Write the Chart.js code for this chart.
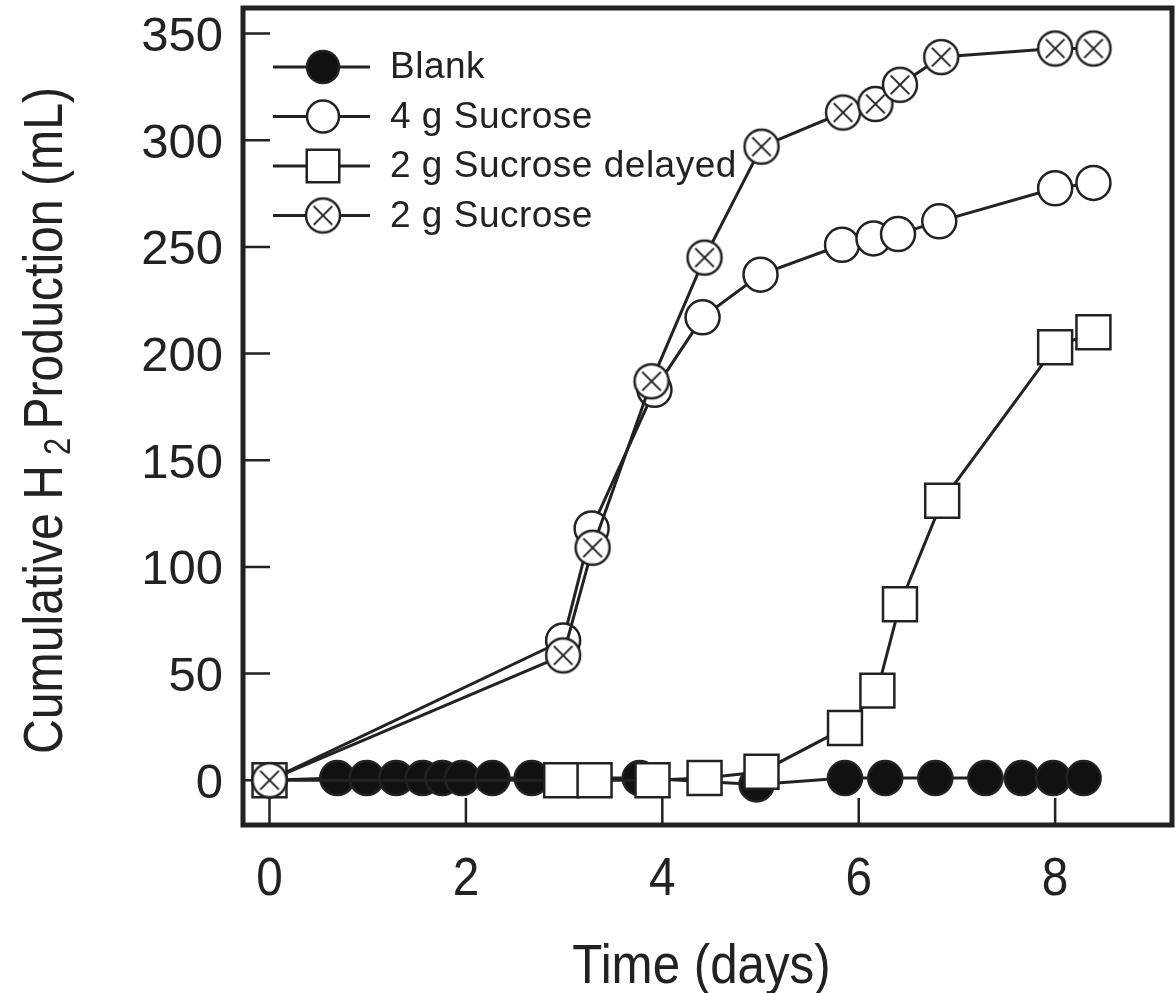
<!DOCTYPE html>
<html>
<head>
<meta charset="utf-8">
<script src="https://cdn.jsdelivr.net/npm/chart.js@4.4.0/dist/chart.umd.min.js"></script>
<style>
  html, body { margin: 0; padding: 0; background: #fff; }
  #wrap { width: 1176px; height: 993px; }
</style>
</head>
<body>
<div id="wrap"><canvas id="myChart" width="1176" height="993"></canvas></div>
<script>
// values (days, mL)
const blankDays = [0, 0.69, 0.99, 1.29, 1.56, 1.76, 1.96, 2.27, 2.67, 3.77, 4.96, 5.86, 6.27, 6.78, 7.29, 7.66, 7.98, 8.29];
const blankH2 = [0, 1, 1, 1, 1, 1, 1, 1, 1, 1, -2, 1, 1, 1, 1, 1, 1, 1];

const suc4Days = [0, 2.99, 3.28, 3.92, 4.41, 5.0, 5.83, 6.15, 6.4, 6.82, 8.0, 8.39];
const suc4H2 = [0, 65.5, 118, 183, 217, 237, 251, 254, 256, 262, 277.5, 280];

const delayedDays = [0, 2.97, 3.31, 3.9, 4.43, 5.01, 5.86, 6.19, 6.42, 6.85, 8.0, 8.39];
const delayedH2 = [0, 0, 0, 0, 1, 4, 24.5, 42, 82.5, 131, 203, 210];

const suc2Days = [0, 2.99, 3.29, 3.89, 4.43, 5.01, 5.84, 6.17, 6.42, 6.84, 8.0, 8.39];
const suc2H2 = [0, 58.5, 109, 187, 245, 297, 313, 317, 326, 339, 343, 343];

const seriesLabels = ["Blank", "4 g Sucrose", "2 g Sucrose delayed", "2 g Sucrose"];
const xTicks = [0, 2, 4, 6, 8];
const yTicks = [0, 50, 100, 150, 200, 250, 300, 350];

const INK = "#222";
const FONT = "'Liberation Sans', Arial, sans-serif";

function pts(xs, ys) {
  return xs.map((x, i) => ({ x: x, y: ys[i] }));
}

// open circle with an X inside
function crossedCircle(r) {
  const c = document.createElement("canvas");
  const s = 2 * r + 6;
  c.width = s;
  c.height = s;
  const g = c.getContext("2d");
  g.fillStyle = "#fff";
  g.strokeStyle = INK;
  g.lineWidth = 2.5;
  g.beginPath();
  g.arc(s / 2, s / 2, r, 0, Math.PI * 2);
  g.fill();
  g.stroke();
  const d = r * 0.55;
  g.lineWidth = 2;
  g.beginPath();
  g.moveTo(s / 2 - d, s / 2 - d);
  g.lineTo(s / 2 + d, s / 2 + d);
  g.moveTo(s / 2 + d, s / 2 - d);
  g.lineTo(s / 2 - d, s / 2 + d);
  g.stroke();
  return c;
}

const crossImg = crossedCircle(17);

function series(label, data, style, radius, fill, order) {
  return {
    label: label,
    data: data,
    order: order,
    borderColor: INK,
    borderWidth: 3,
    pointStyle: style,
    pointRadius: radius,
    pointHoverRadius: radius,
    pointBackgroundColor: fill,
    pointBorderColor: INK,
    pointBorderWidth: 2.5,
    tension: 0,
    fill: false
  };
}

const datasets = [
  series(seriesLabels[0], pts(blankDays, blankH2), "circle", 17, "#111", 3),
  series(seriesLabels[1], pts(suc4Days, suc4H2), "circle", 17, "#fff", 2),
  series(seriesLabels[2], pts(delayedDays, delayedH2), "rect", 24, "#fff", 1),
  series(seriesLabels[3], pts(suc2Days, suc2H2), crossImg, 17, "#fff", 0)
];

// frame + inward tick marks
const framePlugin = {
  id: "frame",
  beforeDatasetsDraw(chart) {
    const ctx = chart.ctx;
    const a = chart.chartArea;
    const xs = chart.scales.x;
    const ys = chart.scales.y;
    ctx.save();
    ctx.strokeStyle = INK;
    ctx.lineWidth = 2.5;
    ctx.beginPath();
    xTicks.forEach(v => {
      const px = xs.getPixelForValue(v);
      ctx.moveTo(px, a.bottom);
      ctx.lineTo(px, a.bottom - 27);
    });
    yTicks.forEach(v => {
      const py = ys.getPixelForValue(v);
      ctx.moveTo(a.left, py);
      ctx.lineTo(a.left + 27, py);
    });
    ctx.stroke();
    ctx.lineWidth = 5;
    ctx.strokeRect(a.left, a.top, a.right - a.left, a.bottom - a.top);
    ctx.restore();
  }
};

// x tick labels and both axis titles, slightly condensed like the original
const axisTextPlugin = {
  id: "axisText",
  afterDraw(chart) {
    const ctx = chart.ctx;
    const a = chart.chartArea;
    const xs = chart.scales.x;
    ctx.save();
    ctx.fillStyle = INK;
    ctx.textAlign = "center";
    ctx.textBaseline = "alphabetic";

    ctx.font = "53px " + FONT;
    xTicks.forEach(v => {
      ctx.save();
      ctx.translate(xs.getPixelForValue(v), a.bottom + 70);
      ctx.scale(0.9, 1);
      ctx.fillText(String(v), 0, 0);
      ctx.restore();
    });

    ctx.font = "56px " + FONT;
    ctx.save();
    ctx.translate((a.left + a.right) / 2 - 6, a.bottom + 158);
    ctx.scale(0.88, 1);
    ctx.fillText("Time (days)", 0, 0);
    ctx.restore();

    // y title with subscript 2
    const p1 = "Cumulative H ";
    const p2 = "2";
    const p3 = " Production (mL)";
    ctx.font = "56px " + FONT;
    const w1 = ctx.measureText(p1).width;
    const w3 = ctx.measureText(p3).width;
    ctx.font = "36px " + FONT;
    const w2 = ctx.measureText(p2).width;
    const total = w1 + w2 + w3 - 10;
    ctx.save();
    ctx.translate(62, (a.top + a.bottom) / 2 + 4);
    ctx.rotate(-Math.PI / 2);
    ctx.scale(0.86, 1);
    ctx.textAlign = "left";
    let x0 = -total / 2;
    ctx.font = "56px " + FONT;
    ctx.fillText(p1, x0, 0);
    ctx.font = "36px " + FONT;
    ctx.fillText(p2, x0 + w1 - 4, 8);
    ctx.font = "56px " + FONT;
    ctx.fillText(p3, x0 + w1 + w2 - 10, 0);
    ctx.restore();

    ctx.restore();
  }
};

// legend inside the plot, top left
const legendPlugin = {
  id: "insideLegend",
  afterDatasetsDraw(chart) {
    const ctx = chart.ctx;
    const a = chart.chartArea;
    ctx.save();
    chart.data.datasets.forEach((ds, i) => {
      const y = a.top + 59 + i * 49.5;
      const mx = a.left + 80;
      ctx.strokeStyle = INK;
      ctx.lineWidth = ds.borderWidth;
      ctx.beginPath();
      ctx.moveTo(a.left + 30, y);
      ctx.lineTo(a.left + 127, y);
      ctx.stroke();
      ctx.fillStyle = ds.pointBackgroundColor;
      ctx.strokeStyle = INK;
      ctx.lineWidth = 2.5;
      const r = ds.pointStyle === "rect" ? 23 : 16;
      Chart.helpers.drawPoint(ctx, { pointStyle: ds.pointStyle, radius: r, rotation: 0, borderWidth: 2.5 }, mx, y);
      ctx.fillStyle = INK;
      ctx.font = "37px " + FONT;
      ctx.letterSpacing = "0.5px";
      ctx.textBaseline = "middle";
      ctx.textAlign = "left";
      ctx.fillText(ds.label, a.left + 147, y + 1);
    });
    ctx.restore();
  }
};

function noPad(s) {
  s.paddingLeft = 0;
  s.paddingRight = 0;
  s.paddingTop = 0;
  s.paddingBottom = 0;
}

const ctx = document.querySelector("#myChart").getContext("2d");

const config = {
  type: "line",
  data: { datasets: datasets },
  options: {
    responsive: false,
    animation: false,
    devicePixelRatio: 1,
    layout: { autoPadding: false, padding: { top: 8, right: 4, left: 0, bottom: 0 } },
    plugins: {
      legend: { display: false },
      tooltip: { enabled: false }
    },
    scales: {
      x: {
        type: "linear",
        min: -0.27,
        max: 9.19,
        afterFit: s => { s.height = 168; noPad(s); },
        afterBuildTicks: s => { s.ticks = xTicks.map(v => ({ value: v })); },
        grid: { display: false, drawTicks: false },
        border: { display: false },
        ticks: { display: false }
      },
      y: {
        type: "linear",
        min: -21,
        max: 362,
        afterFit: s => { s.width = 243; noPad(s); },
        afterBuildTicks: s => { s.ticks = yTicks.map(v => ({ value: v })); },
        grid: { display: false, drawTicks: false },
        border: { display: false },
        ticks: {
          color: INK,
          padding: 20,
          labelOffset: 4,
          font: { family: FONT, size: 49 },
          callback: v => String(v)
        }
      }
    }
  },
  plugins: [framePlugin, legendPlugin, axisTextPlugin]
};

const myChart = new Chart(ctx, config);
</script>
</body>
</html>
